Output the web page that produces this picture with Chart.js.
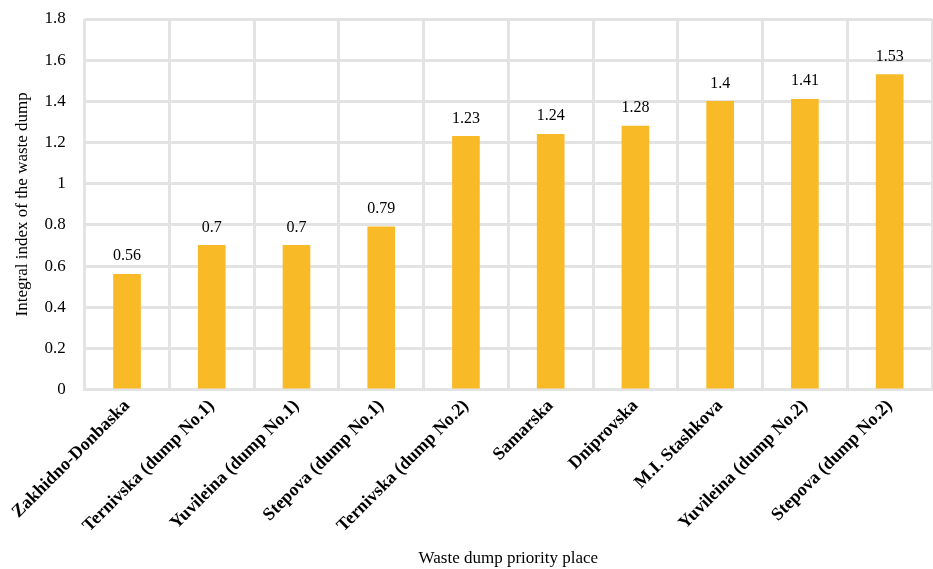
<!DOCTYPE html>
<html>
<head>
<meta charset="utf-8">
<script src="https://cdn.jsdelivr.net/npm/chart.js@4/dist/chart.umd.min.js"></script>
<style>
  html, body { margin: 0; padding: 0; background: #fff; }
  #wrap { width: 933px; height: 569px; }
</style>
</head>
<body>
<div id="wrap"><canvas id="grafico" width="933" height="569"></canvas></div>
<script>
// Datos del gráfico
const categorias = [
  'Zakhidno-Donbaska',
  'Ternivska (dump No.1)',
  'Yuvileina (dump No.1)',
  'Stepova (dump No.1)',
  'Ternivska (dump No.2)',
  'Samarska',
  'Dniprovska',
  'M.I. Stashkova',
  'Yuvileina (dump No.2)',
  'Stepova (dump No.2)'
];
const valores = [0.56, 0.7, 0.7, 0.79, 1.23, 1.24, 1.28, 1.4, 1.41, 1.53];
const etiquetasValor = ['0.56', '0.7', '0.7', '0.79', '1.23', '1.24', '1.28', '1.4', '1.41', '1.53'];

const SERIF = "'Liberation Serif', 'DejaVu Serif', serif";

// Etiquetas encima de cada barra
const etiquetasBarras = {
  id: 'etiquetasBarras',
  afterDatasetsDraw(chart) {
    const ctx = chart.ctx;
    const meta = chart.getDatasetMeta(0);
    ctx.save();
    ctx.font = '16px ' + SERIF;
    ctx.fillStyle = '#000';
    ctx.textAlign = 'center';
    ctx.textBaseline = 'bottom';
    meta.data.forEach((bar, i) => {
      ctx.fillText(etiquetasValor[i], bar.x, bar.y - 10);
    });
    ctx.restore();
  }
};

new Chart(document.getElementById('grafico'), {
  type: 'bar',
  data: {
    labels: categorias,
    datasets: [{
      data: valores,
      backgroundColor: '#F9BA28',
      barThickness: 27,
    }],
  },
  options: {
    responsive: false,
    animation: false,
    layout: { padding: { top: 19, right: 1, left: 12, bottom: 0 } },
    plugins: {
      legend: { display: false },
      tooltip: { enabled: false },
    },
    scales: {
      x: {
        grid: { color: '#e3e3e3', lineWidth: 3, offset: true, drawTicks: false },
        border: { display: true, color: '#e3e3e3', width: 3 },
        ticks: {
          color: '#000',
          font: { family: SERIF, size: 18, weight: 'bold' },
          minRotation: 45,
          maxRotation: 45,
          padding: 6,
        },
        title: {
          display: true,
          text: 'Waste dump priority place',
          color: '#000',
          font: { family: SERIF, size: 17 },
          padding: { top: 6, bottom: 0 },
        },
      },
      y: {
        min: 0,
        max: 1.8,
        grid: {
          color: '#e3e3e3',
          lineWidth: 3,
          drawTicks: true,
          tickLength: 19,
          tickColor: 'rgba(0,0,0,0)',
        },
        border: { display: false },
        ticks: {
          stepSize: 0.2,
          color: '#000',
          font: { family: SERIF, size: 17 },
          padding: 0,
          callback: (v) => Math.round(v * 10) / 10,
        },
        title: {
          display: true,
          text: 'Integral index of the waste dump',
          color: '#000',
          font: { family: SERIF, size: 17 },
          padding: { top: 0, bottom: 12 },
        },
      },
    },
  },
  plugins: [etiquetasBarras],
});
</script>
</body>
</html>
